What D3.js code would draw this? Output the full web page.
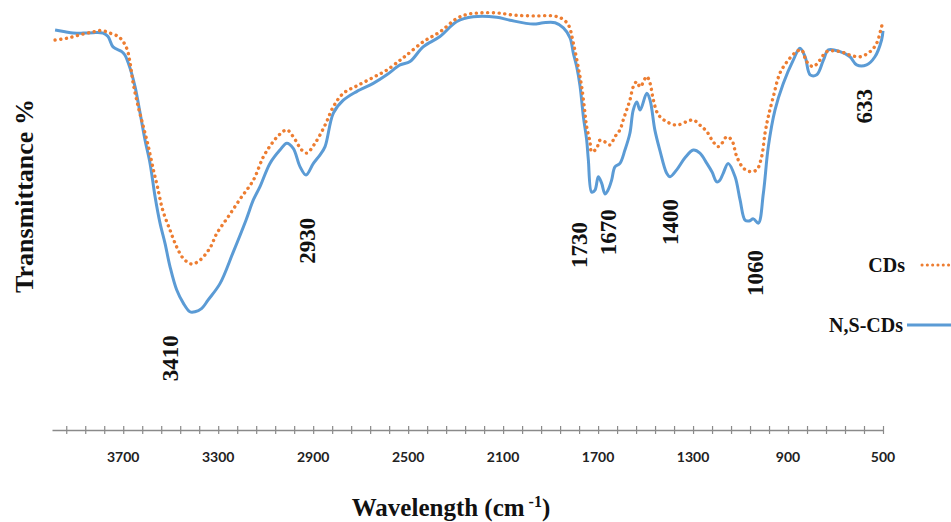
<!DOCTYPE html>
<html>
<head>
<meta charset="utf-8">
<script src="https://cdn.jsdelivr.net/npm/d3@7"></script>
<style>
  html, body { margin: 0; padding: 0; background: #fff; }
  svg { display: block; }
</style>
</head>
<body>
<svg id="chart" width="951" height="522"></svg>
<script>
// FTIR spectra of CDs and N,S-CDs (wavenumber in cm-1, transmittance in arbitrary %)
const nsWavenumber = [3987,3945,3912,3869,3827,3785,3764,3743,3706,3693,3671,3650,3629,3608,3587,3566,3545,3524,3503,3475,3447,3419,3398,3369,3343,3292,3238,3183,3152,3124,3082,3040,3011,2984,2955,2930,2899,2871,2850,2815,2773,2717,2647,2590,2534,2492,2437,2366,2295,2226,2127,2071,1973,1931,1881,1846,1818,1804,1790,1776,1762,1748,1741,1727,1713,1699,1685,1671,1658,1643,1629,1608,1587,1566,1552,1537,1523,1495,1481,1461,1440,1411,1397,1369,1334,1299,1271,1242,1220,1200,1187,1173,1152,1123,1102,1081,1064,1046,1025,1004,983,955,920,878,850,828,807,779,751,730,681,639,611,569,534,506,500];
const nsTransmittance = [93.0,92.6,92.3,92.3,92.4,92.3,91.5,89.1,88.0,87.2,84.1,79.8,73.7,67.4,62.0,54.3,48.1,43.4,38.0,32.6,29.5,27.5,27.5,28.3,30.2,34.1,41.2,48.8,53.5,56.6,62.0,65.1,66.7,65.5,61.2,59.3,62.0,64.0,65.9,73.7,76.7,78.7,80.6,82.6,84.9,85.7,89.1,91.5,95.0,96.1,96.0,95.3,94.4,94.7,94.7,93.5,91.2,87.6,84.5,80.0,72.9,67.4,62.8,55.3,55.8,58.9,57.4,54.9,55.8,58.1,61.2,62.0,65.1,69.0,74.4,76.3,74.4,78.3,76.7,69.8,65.1,59.7,58.9,60.5,63.3,65.1,64.4,62.0,60.0,57.7,58.1,59.7,62.0,58.9,53.5,48.8,48.6,49.1,48.1,55.0,65.9,74.4,80.6,86.0,88.8,86.8,82.6,82.6,86.0,88.4,88.0,86.8,84.9,84.9,86.8,90.7,92.8];

const cdWavenumber = [3987,3938,3882,3826,3791,3756,3721,3700,3683,3671,3658,3637,3615,3594,3573,3556,3534,3503,3475,3447,3412,3377,3335,3306,3259,3208,3152,3110,3073,3040,3011,2984,2948,2927,2892,2850,2815,2773,2717,2647,2590,2534,2506,2436,2366,2295,2248,2197,2127,2057,1973,1889,1853,1825,1804,1783,1769,1755,1748,1734,1727,1706,1692,1671,1650,1629,1608,1594,1580,1566,1552,1537,1523,1495,1481,1467,1446,1411,1369,1327,1299,1271,1242,1215,1194,1178,1158,1137,1116,1088,1060,1032,1011,997,983,962,934,899,864,843,822,794,766,737,681,639,597,554,527,506,500];
const cdTransmittance = [90.7,91.1,91.9,92.6,92.9,92.3,91.5,90.3,88.4,85.3,80.6,75.2,70.5,65.9,60.5,56.6,51.2,46.5,42.6,39.9,38.6,39.5,42.3,45.7,49.5,53.7,58.1,63.5,66.7,68.8,69.8,68.2,65.1,64.4,66.7,70.9,75.2,78.3,80.0,82.0,83.7,86.0,87.2,90.3,92.6,95.7,96.7,97.0,97.0,96.5,96.3,96.3,95.7,94.2,89.9,84.2,79.8,73.7,70.5,67.0,64.7,65.5,67.4,67.0,66.3,68.2,69.8,72.1,74.4,76.7,79.8,81.0,79.8,82.2,80.6,76.7,73.3,71.7,70.9,71.7,72.1,70.9,69.4,67.0,65.9,66.7,68.2,67.4,63.6,60.9,60.1,60.5,63.6,69.0,72.9,77.5,83.0,86.0,88.0,88.4,85.7,84.5,86.0,88.0,88.0,87.2,86.8,88.0,89.9,93.8,94.9];

// Axis ticks: minor every 80 cm-1, labelled every 400 cm-1
const tickValues = d3.range(3940, 499, -80);
const tickLabels = ["3700","3300","2900","2500","2100","1700","1300","900","500"];

// Band assignments written beside the spectrum
const peakLabels = ["3410","2930","1730","1670","1400","1060","633"];
const peakLabelAt = [3499,2924,1780,1658,1393,1035,576];
const peakLabelLevel = [16.7,44.0,43.0,46.0,48.4,36.5,75.3];

const seriesNames = ["CDs","N,S-CDs"];

const svg = d3.select("#chart");
const x = d3.scaleLinear().domain([4000, 500]).range([52, 883]);
const y = d3.scaleLinear().domain([0, 100]).range([430, 0]);

const orange = "#ED7D31";
const blue = "#5B9BD5";

const line = d3.line()
  .x(d => x(d[0]))
  .y(d => y(d[1]))
  .curve(d3.curveCatmullRom.alpha(0.5));

const nsData = nsWavenumber.map((w, i) => [w, nsTransmittance[i]]);
const cdData = cdWavenumber.map((w, i) => [w, cdTransmittance[i]]);

// N,S-CDs solid line
svg.append("path")
  .datum(nsData)
  .attr("d", line)
  .attr("fill", "none")
  .attr("stroke", blue)
  .attr("stroke-width", 3)
  .attr("stroke-linejoin", "round");

// CDs dotted line
svg.append("path")
  .datum(cdData)
  .attr("d", line)
  .attr("fill", "none")
  .attr("stroke", orange)
  .attr("stroke-width", 3.4)
  .attr("stroke-linecap", "round")
  .attr("stroke-dasharray", "0.1 5.6");

// x axis: plain line with cross ticks
const axisY = 430;
const axisG = svg.append("g").attr("transform", `translate(0,${axisY})`);
const axis = d3.axisBottom(x).tickValues(tickValues).tickSizeInner(4).tickSizeOuter(0).tickFormat("");
axisG.call(axis);
axisG.select(".domain").attr("stroke", "#8a8a8a").attr("stroke-width", 1.3);
axisG.selectAll(".tick line").attr("stroke", "#8a8a8a").attr("stroke-width", 1.2).attr("y1", -4).attr("y2", 4);

svg.append("g")
  .selectAll("text")
  .data(tickLabels)
  .join("text")
  .attr("x", d => x(+d))
  .attr("y", 462)
  .attr("text-anchor", "middle")
  .attr("font-family", "Lato, 'Open Sans', sans-serif")
  .attr("font-weight", "bold")
  .attr("font-size", 14)
  .attr("fill", "#222")
  .text(d => d);

// Band labels, rotated
svg.append("g")
  .selectAll("text")
  .data(peakLabels)
  .join("text")
  .attr("transform", (d, i) => `translate(${x(peakLabelAt[i])},${y(peakLabelLevel[i])}) rotate(-90)`)
  .attr("text-anchor", "middle")
  .attr("dominant-baseline", "central")
  .attr("font-family", "'Liberation Serif', 'Times New Roman', serif")
  .attr("font-weight", "bold")
  .attr("font-size", 23)
  .attr("fill", "#111")
  .text(d => d);

// Axis titles
svg.append("text")
  .attr("transform", "translate(24,196) rotate(-90)")
  .attr("text-anchor", "middle")
  .attr("dominant-baseline", "central")
  .attr("font-family", "'Liberation Serif', 'Times New Roman', serif")
  .attr("font-weight", "bold")
  .attr("font-size", 26)
  .attr("fill", "#111")
  .text("Transmittance %");

const xTitle = svg.append("text")
  .attr("x", 451)
  .attr("y", 516)
  .attr("text-anchor", "middle")
  .attr("font-family", "'Liberation Serif', 'Times New Roman', serif")
  .attr("font-weight", "bold")
  .attr("font-size", 25)
  .attr("fill", "#111");
xTitle.append("tspan").text("Wavelength (cm");
xTitle.append("tspan").attr("dx", 4).attr("dy", -9).attr("font-size", 16).text("-1");
xTitle.append("tspan").attr("dy", 9).text(")");

// Legend
const legend = svg.append("g");
const legendRows = [
  { name: seriesNames[0], textX: 905, yc: 265, x1: 922, x2: 951, color: orange, dotted: true },
  { name: seriesNames[1], textX: 903, yc: 325, x1: 907, x2: 951, color: blue, dotted: false }
];
legendRows.forEach(r => {
  legend.append("text")
    .attr("x", r.textX)
    .attr("y", r.yc)
    .attr("text-anchor", "end")
    .attr("dominant-baseline", "central")
    .attr("font-family", "'Liberation Serif', 'Times New Roman', serif")
    .attr("font-weight", "bold")
    .attr("font-size", 20)
    .attr("fill", "#111")
    .text(r.name);
  const l = legend.append("line")
    .attr("x1", r.x1).attr("x2", r.x2)
    .attr("y1", r.yc).attr("y2", r.yc)
    .attr("stroke", r.color);
  if (r.dotted) {
    l.attr("stroke-width", 3).attr("stroke-linecap", "round").attr("stroke-dasharray", "0.1 5.2");
  } else {
    l.attr("stroke-width", 3);
  }
});
</script>
</body>
</html>
